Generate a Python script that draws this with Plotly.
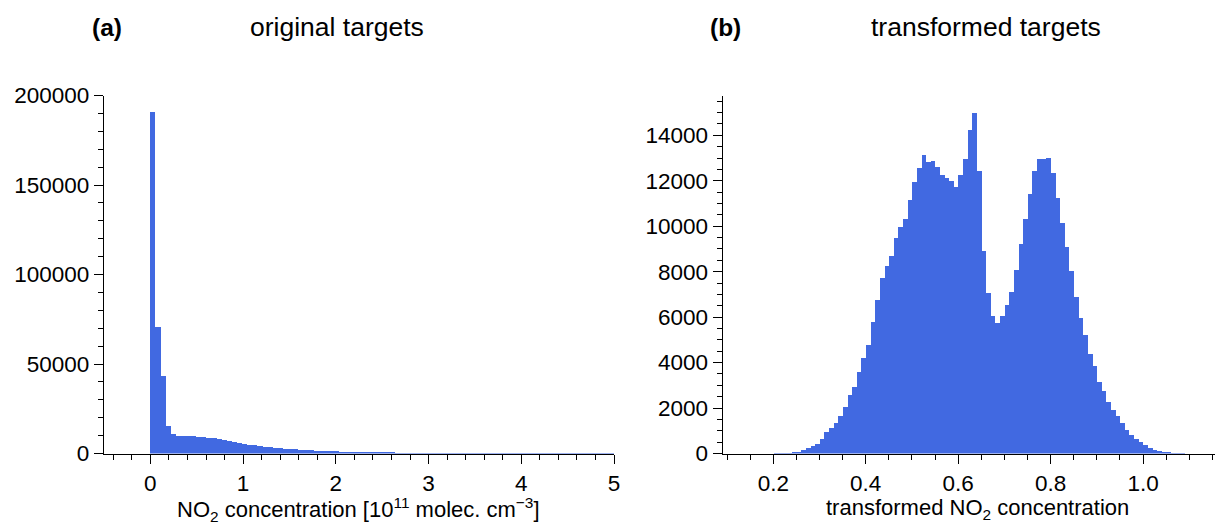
import plotly.graph_objects as go

# ---------------- data ----------------
# (a) original targets: histogram counts, bins start at 0, width 0.055
left_bin_start = 0.0
left_bin_width = 0.055
left_counts = [
    191000, 70800, 43600, 15800, 10900, 9900, 9900, 9850, 9800, 9650,
    9450, 9150, 8800, 8300, 7700, 7100, 6600, 6100, 5600, 5200,
    4800, 4450, 4100, 3800, 3500, 3250, 3000, 2800, 2600, 2400,
    2230, 2070, 1920, 1780, 1650, 1530, 1420, 1310, 1210, 1120,
    1040, 960, 890, 820, 760, 700, 650, 600, 555, 510,
    470, 435, 400, 370, 340, 315, 290, 268, 248, 230,
    212, 196, 182, 168, 156, 145, 134, 124, 115, 107,
    99, 92, 85, 79, 73, 68, 63, 58, 54, 50,
    46, 43, 40, 37, 34, 32, 30, 28, 26, 24, 22,
]

# (b) transformed targets: histogram counts, bins start at 0.20, width 0.01
right_bin_start = 0.20
right_bin_width = 0.01
right_counts = [
    5, 10, 20, 35, 60, 100, 175, 265, 340, 440,
    660, 970, 1160, 1360, 1690, 2050, 2610, 2960, 3620, 4240,
    4810, 5790, 6770, 7740, 8280, 8720, 9500, 10000, 10350, 11190,
    11980, 12570, 13170, 12830, 12890, 12620, 12270, 12140, 12020, 11740,
    12270, 12960, 14240, 15010, 12450, 8940, 7070, 6060, 5780, 6070,
    6540, 7110, 8090, 9220, 10350, 11420, 12430, 12990, 12960, 13040,
    12360, 11250, 10180, 9090, 8060, 6890, 5980, 5230, 4410, 3890,
    3180, 2790, 2300, 1940, 1690, 1380, 1060, 850, 660, 530,
    400, 280, 190, 150, 90, 45, 25, 12, 5,
]

left_xticks = [0, 1, 2, 3, 4, 5]
left_yticks = [0, 50000, 100000, 150000, 200000]
right_xticks = [0.2, 0.4, 0.6, 0.8, 1.0]
right_yticks = [0, 2000, 4000, 6000, 8000, 10000, 12000, 14000]

panel_labels = ["(a)", "(b)"]
panel_titles = ["original targets", "transformed targets"]
x_titles = ["NO<sub>2</sub> concentration [10<sup>11</sup> molec. cm<sup>−3</sup>]",
            "transformed NO<sub>2</sub> concentration"]

# ---------------- figure ----------------
# page body has an 8px margin, so the figure is drawn 8px smaller and all
# screen positions below are converted to figure coordinates
OFF = 8
W, H = 1223 - OFF, 525 - OFF
BAR = "#4169E1"
FONT = "Liberation Sans, Arial, Helvetica, sans-serif"


def px_x(p):
    return (p - OFF) / W


def px_y(p):
    return 1 - (p - OFF) / H


left_centers = [left_bin_start + (i + 0.5) * left_bin_width for i in range(len(left_counts))]
right_centers = [right_bin_start + (i + 0.5) * right_bin_width for i in range(len(right_counts))]

fig = go.Figure()
fig.add_trace(go.Bar(x=left_centers, y=left_counts, width=left_bin_width,
                     marker=dict(color=BAR, line=dict(width=0)),
                     xaxis="x", yaxis="y", showlegend=False))
fig.add_trace(go.Bar(x=right_centers, y=right_counts, width=right_bin_width,
                     marker=dict(color=BAR, line=dict(width=0)),
                     xaxis="x2", yaxis="y2", showlegend=False))

axis_common = dict(
    showline=True, linecolor="black", linewidth=1.3,
    ticks="outside", ticklen=9, tickwidth=1.3, tickcolor="black",
    showgrid=False, zeroline=False, automargin=False,
    tickfont=dict(family=FONT, size=22.5, color="black"),
)

y_dom = [px_y(453.5), px_y(95.5)]

fig.update_layout(
    width=W, height=H, autosize=False,
    margin=dict(l=0, r=0, t=0, b=0, pad=0, autoexpand=False),
    paper_bgcolor="white", plot_bgcolor="white",
    bargap=0,
    xaxis=dict(domain=[px_x(104), px_x(614)], range=[-0.5, 5],
               tickvals=left_xticks, anchor="y",
               minor=dict(dtick=0.2, tick0=0, ticklen=5, tickwidth=1.1,
                          tickcolor="black", ticks="outside", showgrid=False),
               **axis_common),
    yaxis=dict(domain=y_dom, range=[0, 200000], tickvals=left_yticks,
               tickformat="d", anchor="x",
               minor=dict(dtick=10000, tick0=0, ticklen=5, tickwidth=1.1,
                          tickcolor="black", ticks="outside", showgrid=False),
               **axis_common),
    xaxis2=dict(domain=[px_x(722.7), 1.0], range=[0.0905, 1.173],
                tickvals=right_xticks, tickformat=".1f", anchor="y2",
                minor=dict(dtick=0.05, tick0=0, ticklen=5, tickwidth=1.1,
                           tickcolor="black", ticks="outside", showgrid=False),
                **axis_common),
    yaxis2=dict(domain=y_dom, range=[0, 15750], tickvals=right_yticks,
                tickformat="d", anchor="x2",
                minor=dict(dtick=500, tick0=0, ticklen=5, tickwidth=1.1,
                           tickcolor="black", ticks="outside", showgrid=False),
                **axis_common),
)

annotations = []
for lbl, cx in zip(panel_labels, [107, 726]):
    annotations.append(dict(text="<b>%s</b>" % lbl, x=px_x(cx), y=px_y(27),
                            xref="paper", yref="paper", showarrow=False,
                            xanchor="center", yanchor="middle",
                            font=dict(family=FONT, size=24.5, color="black")))
for ttl, cx in zip(panel_titles, [336.5, 986]):
    annotations.append(dict(text=ttl, x=px_x(cx), y=px_y(27),
                            xref="paper", yref="paper", showarrow=False,
                            xanchor="center", yanchor="middle",
                            font=dict(family=FONT, size=26.5, color="black")))
for ttl, cx in zip(x_titles, [358, 977]):
    annotations.append(dict(text=ttl, x=px_x(cx), y=px_y(509),
                            xref="paper", yref="paper", showarrow=False,
                            xanchor="center", yanchor="middle",
                            font=dict(family=FONT, size=22, color="black")))
fig.update_layout(annotations=annotations)

fig.write_html("out.html")
